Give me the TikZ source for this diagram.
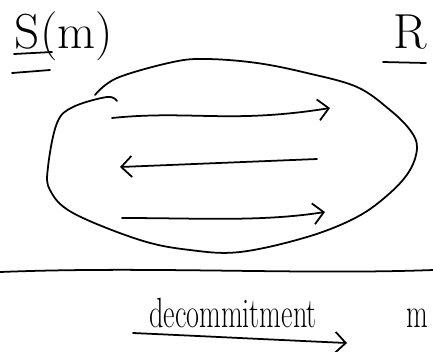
\documentclass[tikz,border=0pt]{standalone}
\usetikzlibrary{arrows.meta}

\begin{document}
\begin{tikzpicture}[x=0.03cm,y=-0.03cm,line width=1.5pt,line cap=round,line join=round,
  hand/.style={-{Straight Barb[length=9pt,width=18pt]}},
  big/.style={inner sep=0pt,font=\fontsize{42}{42}\selectfont},
  small/.style={inner sep=0pt,font=\fontsize{24}{24}\selectfont,yscale=1.5}]
  \useasboundingbox (0,0) rectangle (433,351);

  % the two parties, underlined
  \node[big,anchor=base west] (sender) at (14,48) {S(m)};
  \node[big,anchor=base east] (receiver) at (428,48) {R};
  \draw (14,54) -- (52,52);
  \draw (12,73) -- (50,70);
  \draw (383,62) -- (426,63);

  % the commit phase, drawn as one closed blob
  \draw plot[smooth,tension=0.6] coordinates {
    (95,95) (117,78) (173,62) (207,59) (257,63) (307,73) (357,87) (390,110)
    (410,130) (417,147) (410,170) (390,193) (357,217) (307,237) (240,252)
    (190,250) (140,240) (73,213) (50,190) (48,167) (57,123) (73,107)
    (107,97) (117,101)};

  % messages going back and forth
  \coordinate (m1s) at (112,118);  \coordinate (m1e) at (330,108);
  \coordinate (m2s) at (317,159);  \coordinate (m2e) at (120,167);
  \coordinate (m3s) at (122,218);  \coordinate (m3e) at (325,212);
  \draw[hand] (m1s) .. controls (190,110) and (230,124) .. (m1e);
  \draw[hand] (m2s) -- (m2e);
  \draw[hand] (m3s) .. controls (200,218) and (260,222) .. (m3e);

  % end of the commit phase
  \draw (0,272) .. controls (150,266) and (300,275) .. (433,270);

  % opening
  \node[small,anchor=base] (open) at (233,327) {decommitment};
  \coordinate (o1) at (133,333);  \coordinate (o2) at (347,343);
  \draw[hand] (o1) .. controls (200,336) and (280,340) .. (o2);
  \node[small,anchor=base west] (msg) at (406,327) {m};
\end{tikzpicture}
\end{document}
